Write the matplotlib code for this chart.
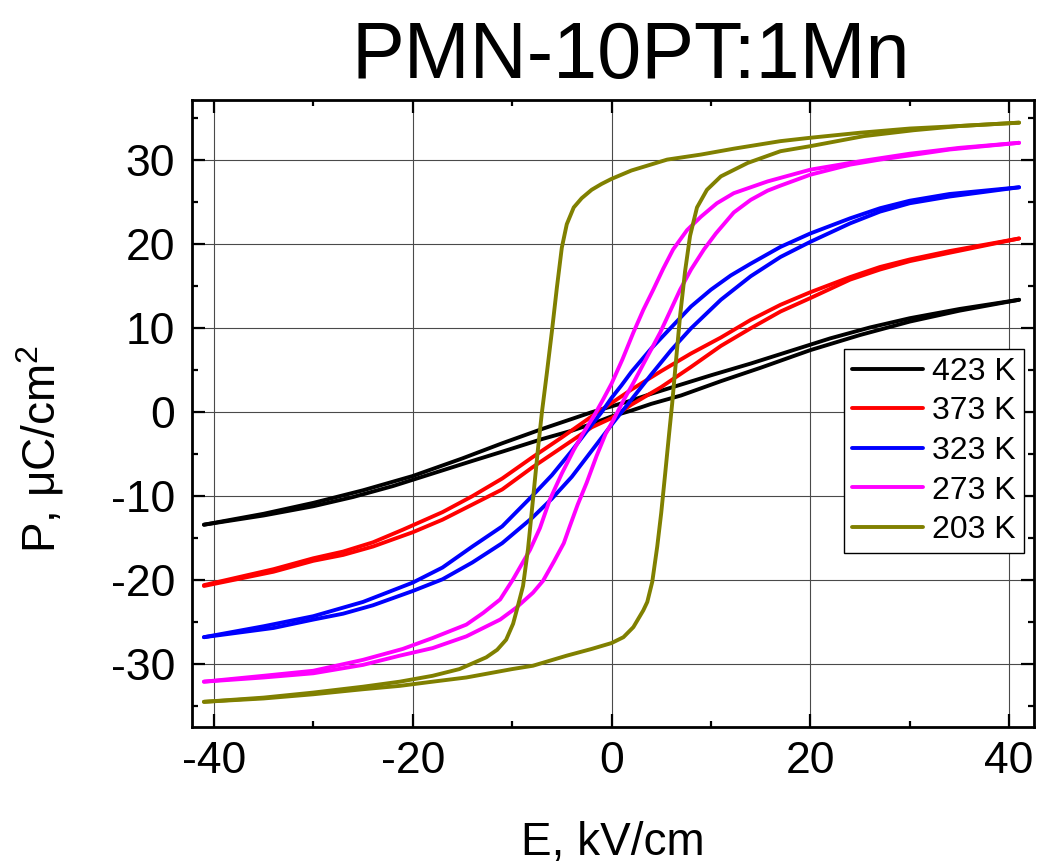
import matplotlib
matplotlib.use('Agg')
import matplotlib.pyplot as plt
from matplotlib.ticker import MultipleLocator

plt.rcParams['font.family'] = ['Liberation Sans', 'DejaVu Sans']
plt.rcParams['mathtext.fontset'] = 'custom'
plt.rcParams['mathtext.rm'] = 'Liberation Sans'
plt.rcParams['axes.unicode_minus'] = False

# hysteresis loops, "up" = branch coming down from +E (upper), "dn" = branch going up from -E
labels = ['423 K', '373 K', '323 K', '273 K', '203 K']
colors = ['#000000', '#ff0000', '#0000ff', '#ff00ff', '#808000']

e_423_up = [-41, -35, -30, -25, -20, -15, -11, -7, -4, -2, 0, 2, 4, 7, 10, 14, 18, 22, 26, 30, 35, 41]
p_423_up = [-13.4, -12.1, -10.8, -9.3, -7.6, -5.5, -3.7, -2.0, -0.8, 0.0, 0.7, 1.4, 2.2, 3.3, 4.4, 5.8,
            7.3, 8.8, 10.1, 11.2, 12.3, 13.4]
e_423_dn = [-41, -35, -30, -26, -22, -18, -14, -11, -7, -4, -2, 0, 2, 4, 7, 11, 15, 20, 25, 30, 35, 41]
p_423_dn = [-13.4, -12.3, -11.2, -10.1, -8.8, -7.3, -5.8, -4.7, -3.2, -2.2, -1.4, -0.5, 0.2, 1.0, 2.0,
            3.7, 5.3, 7.4, 9.2, 10.8, 12.1, 13.4]

e_373_up = [-41, -34, -30, -27, -24, -21, -17, -14, -11, -8, -5, -2, 0, 2, 5, 8, 11, 14, 17, 20, 24,
            27, 30, 34, 41]
p_373_up = [-20.6, -18.7, -17.4, -16.6, -15.5, -14.0, -11.9, -10.0, -7.9, -5.4, -3.0, -0.5, 1.1, 2.7,
            4.9, 7.0, 8.9, 11.0, 12.8, 14.3, 16.1, 17.3, 18.2, 19.2, 20.7]
e_373_dn = [-41, -34, -30, -27, -24, -20, -17, -14, -11, -8, -5, -2, 0, 2, 5, 8, 11, 14, 17, 20, 24,
            27, 30, 34, 41]
p_373_dn = [-20.7, -19.0, -17.7, -17.0, -16.0, -14.3, -12.8, -11.0, -9.2, -6.6, -4.2, -1.8, -0.7, 0.9,
            3.0, 5.4, 7.9, 10.0, 12.0, 13.6, 15.8, 17.0, 18.0, 19.0, 20.7]

e_323_up = [-41, -35, -30, -25, -20, -17, -14, -11, -8, -6, -4, -2, -1, 0, 1, 2, 4, 6, 8, 10, 12, 14,
            17, 20, 24, 27, 30, 34, 41]
p_323_up = [-26.8, -25.5, -24.3, -22.6, -20.3, -18.5, -16.0, -13.6, -10.0, -7.5, -4.6, -1.5, 0.0, 1.7,
            3.2, 4.8, 7.6, 10.1, 12.6, 14.6, 16.3, 17.7, 19.7, 21.3, 23.1, 24.3, 25.2, 26.0, 26.8]
e_323_dn = [-41, -34, -30, -27, -24, -20, -17, -14, -11, -8, -6, -4, -2, 0, 1, 2, 4, 6, 8, 11, 14, 17,
            20, 24, 27, 30, 34, 41]
p_323_dn = [-26.8, -25.7, -24.7, -24.0, -23.0, -21.3, -19.9, -17.9, -15.6, -12.6, -10.3, -7.7, -4.6,
            -1.5, 0.0, 1.5, 4.5, 7.4, 10.0, 13.4, 16.2, 18.5, 20.3, 22.5, 23.9, 24.9, 25.7, 26.8]

e_273_up = [-41, -35, -30, -25, -21, -18, -14.6, -12.9, -11.2, -9.9, -8.2, -7.2, -6.2, -5, -3.8, -2.8,
            -1.8, -0.9, 0, 1.1, 2.2, 3.2, 4.2, 5.2, 6.2, 7.6, 9, 10.6, 12.3, 15.7, 20, 25, 30, 35, 41]
p_273_up = [-32.1, -31.4, -30.8, -29.5, -28.2, -26.9, -25.3, -23.9, -22.3, -19.9, -16.4, -13.8, -10.4,
            -7.3, -4.5, -2.4, -0.5, 1.4, 3.4, 6.3, 9.5, 12.2, 14.6, 17.1, 19.4, 21.7, 23.3, 24.9, 26.1,
            27.5, 28.9, 29.9, 30.8, 31.5, 32.1]
e_273_dn = [-41, -35, -30, -25, -21.3, -18, -14.6, -11.2, -9.6, -7.9, -6.9, -5.8, -4.8, -4.2, -3.4,
            -2.5, -1.5, -0.6, 0.2, 1.2, 2.2, 3.5, 4.9, 6, 6.9, 8, 9.3, 10.5, 12.3, 14, 15.7, 17, 20, 24,
            27, 30, 34, 41]
p_273_dn = [-32.1, -31.6, -31.1, -30.1, -29.0, -28.1, -26.7, -24.7, -23.3, -21.5, -20.1, -17.8, -15.6,
            -13.6, -11.0, -8.4, -5.2, -2.6, -0.9, 1.4, 3.5, 6.4, 9.5, 12.3, 14.6, 17.0, 19.4, 21.3,
            23.8, 25.3, 26.4, 27.0, 28.3, 29.5, 30.1, 30.6, 31.3, 32.1]

e_203_up = [-41, -35, -30, -25, -21.3, -18, -15.3, -12.6, -11.5, -10.6, -9.9, -9.4, -8.9, -8.4, -7.9,
            -7.4, -7.0, -6.5, -6.0, -5.5, -5.0, -4.5, -3.8, -3.0, -2.0, -1.0, 0, 2, 5.6, 9, 12.3, 17,
            20, 25, 30, 35, 41]
p_203_up = [-34.5, -34.0, -33.4, -32.7, -32.1, -31.4, -30.6, -29.2, -28.3, -27.1, -25.2, -23.0, -20.7,
            -16.3, -10.4, -4.4, 0.0, 4.7, 9.6, 14.8, 19.6, 22.4, 24.4, 25.5, 26.5, 27.2, 27.8, 28.8,
            30.1, 30.7, 31.4, 32.3, 32.7, 33.3, 33.8, 34.1, 34.5]
e_203_dn = [-41, -35, -30, -25, -21.3, -18, -14.6, -10, -7.9, -4.5, -2, 0, 1.2, 2.2, 3.2, 3.6, 4.1,
            4.6, 5.0, 5.4, 5.8, 6.1, 6.4, 6.9, 7.4, 7.9, 8.6, 9.6, 11, 13.7, 17, 20, 25.4, 30.4, 35, 41]
p_203_dn = [-34.5, -34.1, -33.6, -33.0, -32.6, -32.1, -31.6, -30.6, -30.2, -29.0, -28.2, -27.5, -26.8,
            -25.6, -23.6, -22.6, -20.2, -16.0, -12.0, -7.3, -2.5, 1.0, 5.0, 11.5, 16.8, 21.0, 24.4,
            26.5, 28.1, 29.7, 31.1, 31.7, 32.9, 33.6, 34.1, 34.5]

loops = [
    (e_423_up, p_423_up, e_423_dn, p_423_dn),
    (e_373_up, p_373_up, e_373_dn, p_373_dn),
    (e_323_up, p_323_up, e_323_dn, p_323_dn),
    (e_273_up, p_273_up, e_273_dn, p_273_dn),
    (e_203_up, p_203_up, e_203_dn, p_203_dn),
]

fig = plt.figure(figsize=(10.38, 8.63), dpi=100)
ax = fig.add_axes([192 / 1038, 1 - 727 / 863, (1034 - 192) / 1038, (727 - 100) / 863])

for (eu, pu, ed, pd), lab, col in zip(loops, labels, colors):
    ax.plot(eu, pu, color=col, lw=2.8, label=lab, solid_capstyle='round', solid_joinstyle='round')
    ax.plot(ed, pd, color=col, lw=2.8, solid_capstyle='round', solid_joinstyle='round')

ax.set_xlim(-42.2, 42.5)
ax.set_ylim(-37.5, 37.2)
ax.xaxis.set_major_locator(MultipleLocator(20))
ax.xaxis.set_minor_locator(MultipleLocator(10))
ax.yaxis.set_major_locator(MultipleLocator(10))
ax.yaxis.set_minor_locator(MultipleLocator(5))
ax.grid(True, which='major', color='#4a4a4a', lw=0.8)
ax.set_axisbelow(True)

ax.tick_params(which='both', direction='in', top=True, right=True, labelsize=32)
ax.tick_params(which='major', length=9.5, width=1.6)
ax.tick_params(which='minor', length=4.5, width=1.6)
ax.tick_params(axis='y', pad=12)
ax.tick_params(axis='x', pad=10)
for sp in ax.spines.values():
    sp.set_linewidth(2.0)

fig.text(40 / 1038, 1 - 449 / 863, 'P, \u03bcC/cm$^{2}$', rotation=90, fontsize=33,
         ha='center', va='center')
fig.text(613 / 1038, 1 - 855 / 863, 'E, kV/cm', fontsize=33, ha='center', va='baseline')
fig.text(631 / 1038, 1 - 78 / 863, 'PMN-10PT:1Mn', fontsize=57, ha='center', va='baseline')

leg = ax.legend(loc='center right', bbox_to_anchor=(1024 / 1038, 1 - 451 / 863),
                bbox_transform=fig.transFigure, fontsize=23, frameon=True, fancybox=False,
                edgecolor='black', framealpha=1, borderpad=0.25, labelspacing=0.3,
                handlelength=2.2, handletextpad=0.3, borderaxespad=0)
leg.get_frame().set_linewidth(1.0)

fig.savefig('out.png', dpi=100)
